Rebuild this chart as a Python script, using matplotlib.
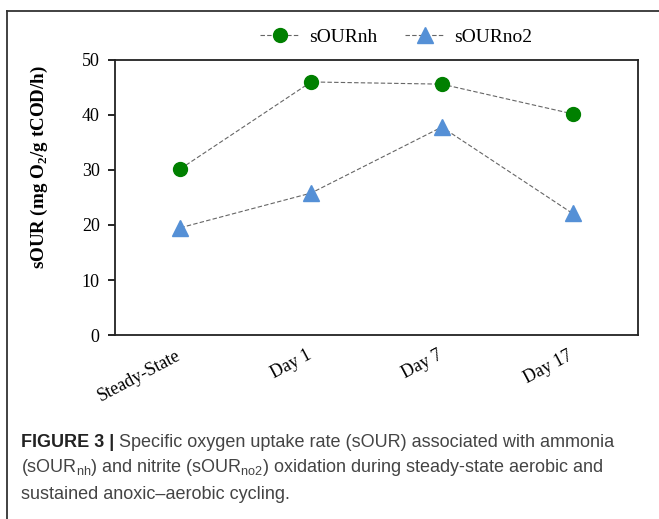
import matplotlib
matplotlib.use('Agg')
import matplotlib.pyplot as plt
from matplotlib.lines import Line2D
from matplotlib.transforms import ScaledTranslation

plt.rcParams['mathtext.fontset'] = 'custom'
plt.rcParams['mathtext.rm'] = 'Liberation Serif'
plt.rcParams['mathtext.bf'] = 'Liberation Serif:bold'
plt.rcParams['mathtext.sf'] = 'Liberation Sans'

categories = ['Steady-State', 'Day 1', 'Day 7', 'Day 17']
sour_nh = [30.2, 46.0, 45.6, 40.2]
sour_no2 = [19.5, 25.8, 37.8, 22.1]
y_ticks = [0, 10, 20, 30, 40, 50]

serif = 'Liberation Serif'
sans = 'Liberation Sans'

fig = plt.figure(figsize=(6.59, 5.19), dpi=100)
ax = fig.add_axes([0.1745, 0.3545, 0.7935, 0.53])

x = list(range(len(categories)))
ax.plot(x, sour_nh, linestyle=(0, (4, 2)), color='#666666', linewidth=0.8,
        marker='o', markersize=10, markerfacecolor='#008000',
        markeredgecolor='#008000', label='sOURnh')
ax.plot(x, sour_no2, linestyle=(0, (4, 2)), color='#666666', linewidth=0.8,
        marker='^', markersize=12, markerfacecolor='#5590d6',
        markeredgecolor='#5590d6', label='sOURno2')

ax.set_xlim(-0.5, 3.5)
ax.set_ylim(0, 50)
ax.set_yticks(y_ticks)
ax.set_yticklabels([str(v) for v in y_ticks], fontfamily=serif, fontsize=13)
ax.set_xticks(x)
ax.set_xticklabels(categories, fontfamily=serif, fontsize=13, rotation=28,
                   ha='right', rotation_mode='anchor')
ax.tick_params(axis='x', length=0, pad=10)
ax.tick_params(axis='y', length=5, width=1.2, pad=6, direction='out')
shift = ScaledTranslation(-0.05, 0.02, fig.dpi_scale_trans)
for lbl in ax.get_xticklabels():
    lbl.set_transform(lbl.get_transform() + shift)
for sp in ax.spines.values():
    sp.set_linewidth(1.3)
    sp.set_color('#222222')

ax.set_ylabel('sOUR (mg O$_{\\mathbf{2}}$/g tCOD/h)', fontfamily=serif,
              fontweight='bold', fontsize=13.7)
ax.yaxis.set_label_coords(-0.124, 0.611)

ax.legend(loc='center', bbox_to_anchor=(0.601, 0.929), bbox_transform=fig.transFigure,
          ncol=2, frameon=False, prop={'family': serif, 'size': 14},
          handlelength=2.0, columnspacing=1.45, handletextpad=0.5)

# outer frame
fig.add_artist(Line2D([7 / 659, 1.0], [1 - 11 / 519, 1 - 11 / 519],
                      transform=fig.transFigure, color='#333333', linewidth=1.3))
fig.add_artist(Line2D([7 / 659, 7 / 659], [0.0, 1 - 11 / 519],
                      transform=fig.transFigure, color='#333333', linewidth=1.3))

# caption
fig.canvas.draw()
renderer = fig.canvas.get_renderer()
x0 = 21 / 659
cap_size = 13
t = fig.text(x0, 1 - 447 / 519, 'FIGURE 3 |', fontfamily=sans, fontweight='bold',
             fontsize=cap_size, color='#222222', va='baseline')
bb = t.get_window_extent(renderer)
fig.text((bb.x1 + 5) / 659, 1 - 447 / 519,
         'Specific oxygen uptake rate (sOUR) associated with ammonia',
         fontfamily=sans, fontsize=cap_size, color='#444444', va='baseline')
fig.text(x0, 1 - 472 / 519,
         '(sOUR$_{\\mathsf{nh}}$) and nitrite (sOUR$_{\\mathsf{no2}}$) oxidation during steady-state aerobic and',
         fontfamily=sans, fontsize=cap_size, color='#444444', va='baseline')
fig.text(x0, 1 - 499 / 519, 'sustained anoxic\u2013aerobic cycling.',
         fontfamily=sans, fontsize=cap_size, color='#444444', va='baseline')

fig.savefig('out.png', dpi=100, facecolor='white')
